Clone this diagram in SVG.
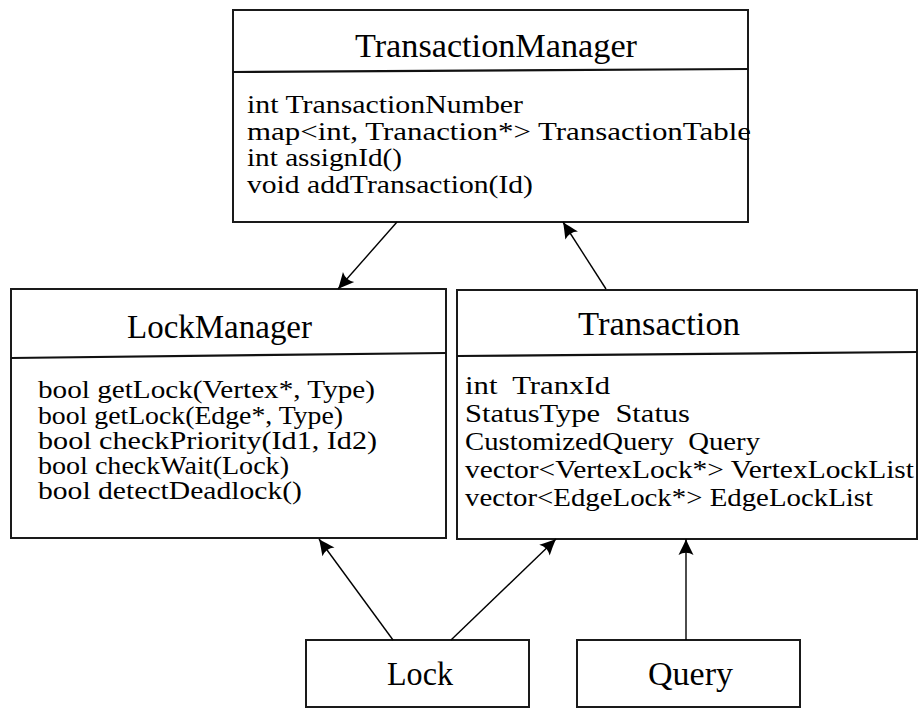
<svg xmlns="http://www.w3.org/2000/svg" width="922" height="709" viewBox="0 0 922 709">
<style>
.box{fill:#fff;stroke:#1a1a1a;stroke-width:2}
.div{stroke:#111;stroke-width:2.2;fill:none}
text{font-family:'Liberation Serif','Times New Roman',serif;fill:#000}
.t{font-size:34px}
.b{font-size:26px;white-space:pre}
.s{font-size:25px}
.c{stroke:#000;stroke-width:1.4;fill:none;marker-end:url(#ah)}
</style>
<defs>
<marker id="ah" markerUnits="userSpaceOnUse" markerWidth="20" markerHeight="20" viewBox="-18 -10 20 20" refX="0" refY="0" orient="auto" overflow="visible">
<path d="M0,0 C-5,-2 -11,-5 -16,-7.5 Q-11.5,0 -16,7.5 C-11,5 -5,2 0,0 Z" fill="#000"/>
</marker>
</defs>
<rect width="922" height="709" fill="#fff"/>

<g id="TransactionManager">
<rect class="box" x="233" y="10" width="515" height="212"/>
<line class="div" x1="233" y1="72" x2="748" y2="69"/>
<text class="t" x="355" y="57" textLength="282" lengthAdjust="spacingAndGlyphs">TransactionManager</text>
<text class="b" x="247" y="113" textLength="276" lengthAdjust="spacingAndGlyphs">int TransactionNumber</text>
<text class="b" x="247" y="139.5" textLength="504" lengthAdjust="spacingAndGlyphs">map&lt;int, Tranaction*&gt; TransactionTable</text>
<text class="b" x="247" y="166" textLength="155" lengthAdjust="spacingAndGlyphs">int assignId()</text>
<text class="b" x="247" y="192.5" textLength="286" lengthAdjust="spacingAndGlyphs">void addTransaction(Id)</text>
</g>

<g id="LockManager">
<rect class="box" x="11" y="289" width="435" height="249"/>
<line class="div" x1="11" y1="358" x2="446" y2="353"/>
<text class="t" x="127" y="338" textLength="185" lengthAdjust="spacingAndGlyphs">LockManager</text>
<text class="b s" x="38" y="398" textLength="337" lengthAdjust="spacingAndGlyphs">bool getLock(Vertex*, Type)</text>
<text class="b s" x="38" y="424" textLength="305" lengthAdjust="spacingAndGlyphs">bool getLock(Edge*, Type)</text>
<text class="b s" x="38" y="449" textLength="339" lengthAdjust="spacingAndGlyphs">bool checkPriority(Id1, Id2)</text>
<text class="b s" x="38" y="474" textLength="251" lengthAdjust="spacingAndGlyphs">bool checkWait(Lock)</text>
<text class="b s" x="38" y="499" textLength="264" lengthAdjust="spacingAndGlyphs">bool detectDeadlock()</text>
</g>

<g id="Transaction">
<rect class="box" x="457" y="290" width="460" height="249"/>
<line class="div" x1="457" y1="356" x2="917" y2="352"/>
<text class="t" x="578" y="335" textLength="162" lengthAdjust="spacingAndGlyphs">Transaction</text>
<text class="b" x="465" y="394" textLength="145" lengthAdjust="spacingAndGlyphs">int  TranxId</text>
<text class="b" x="465" y="422" textLength="225" lengthAdjust="spacingAndGlyphs">StatusType  Status</text>
<text class="b" x="465" y="450" textLength="295" lengthAdjust="spacingAndGlyphs">CustomizedQuery  Query</text>
<text class="b" x="465" y="478" textLength="449" lengthAdjust="spacingAndGlyphs">vector&lt;VertexLock*&gt; VertexLockList</text>
<text class="b" x="465" y="506" textLength="408" lengthAdjust="spacingAndGlyphs">vector&lt;EdgeLock*&gt; EdgeLockList</text>
</g>

<g id="Lock">
<rect class="box" x="306" y="640" width="223" height="67"/>
<text class="t" x="387" y="685" textLength="66" lengthAdjust="spacingAndGlyphs">Lock</text>
</g>

<g id="Query">
<rect class="box" x="577" y="640" width="223" height="67"/>
<text class="t" x="648" y="685" textLength="85" lengthAdjust="spacingAndGlyphs">Query</text>
</g>

<g id="connectors">
<line class="c" x1="397" y1="222" x2="338" y2="289"/>
<line class="c" x1="606" y1="289" x2="563" y2="222"/>
<line class="c" x1="393" y1="640" x2="319" y2="539"/>
<line class="c" x1="451" y1="640" x2="556" y2="539"/>
<line class="c" x1="686" y1="640" x2="686" y2="539"/>
</g>
</svg>
